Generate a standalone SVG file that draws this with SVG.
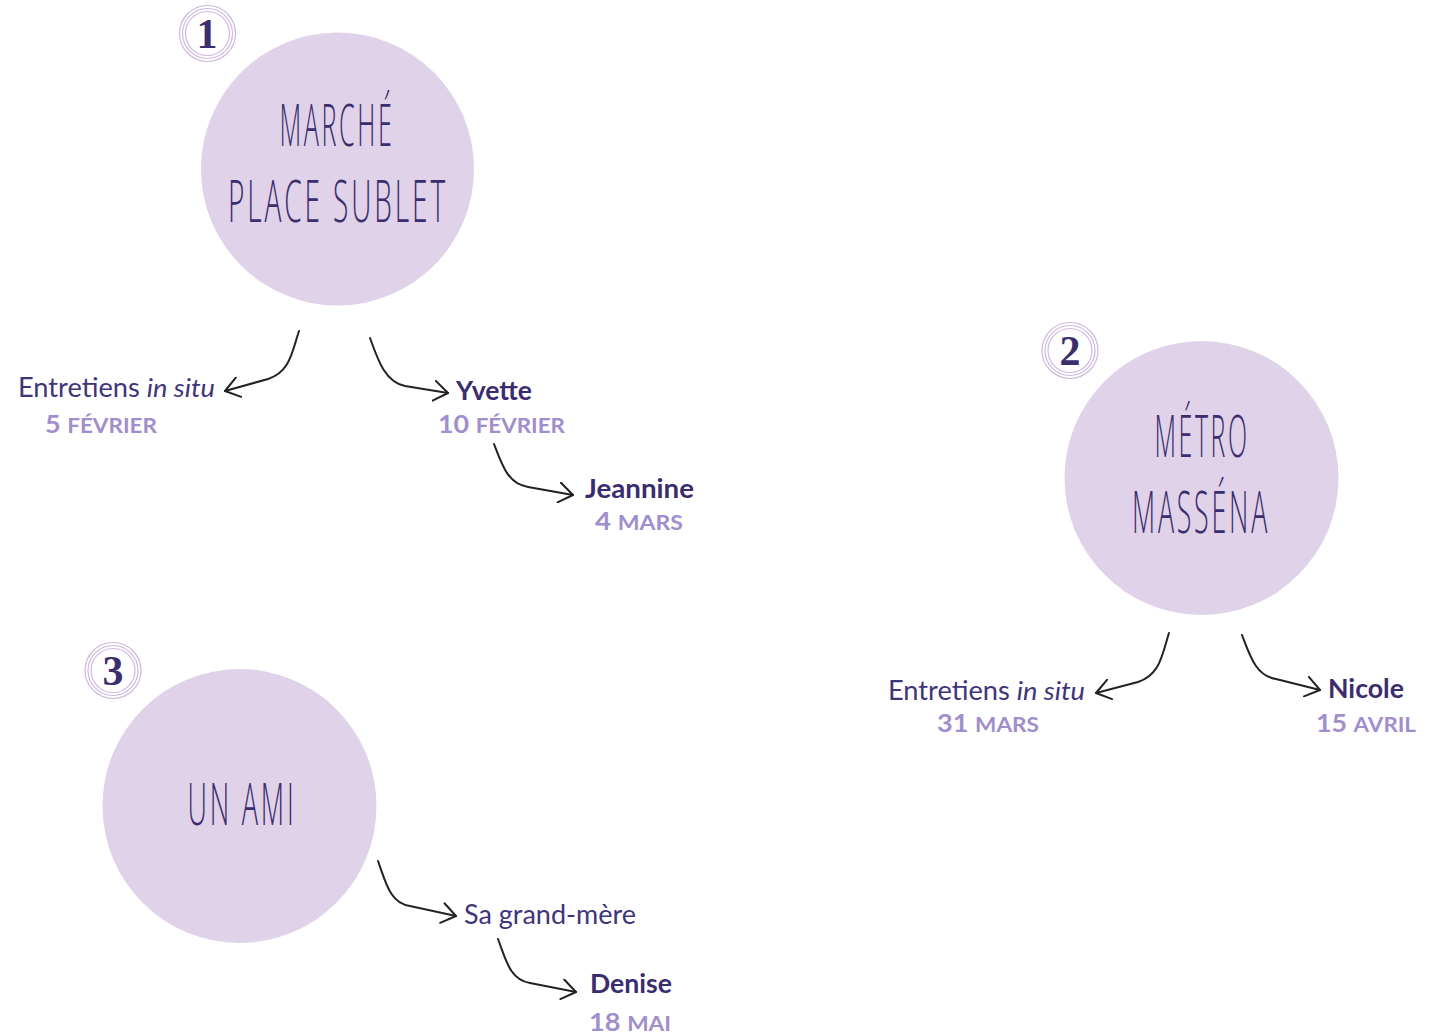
<svg xmlns="http://www.w3.org/2000/svg" width="1436" height="1035" viewBox="0 0 1436 1035">
<defs>
<style>
.bubble{fill:#e0d2e8}
.ring{fill:none;stroke:#cdb8df;stroke-width:1.2}
.num{font-family:"Liberation Serif","DejaVu Serif",serif;font-weight:bold;font-size:42px;fill:#3a2e6e;text-anchor:middle}
.title{font-family:"Open Sans","Liberation Sans",sans-serif;font-weight:300;font-size:58px;fill:#3a2e6e;text-anchor:middle;letter-spacing:6px}
.lbl{font-family:Lato,"Liberation Sans",sans-serif;font-size:26px;fill:#40357a}
.name{font-family:Lato,"Liberation Sans",sans-serif;font-weight:bold;font-size:26px;fill:#3a2d6f}
.date{font-family:Lato,"Liberation Sans",sans-serif;font-weight:bold;font-size:24px;fill:#a18ecd}
.sc{font-size:20px}
.conn{fill:none;stroke:#222;stroke-width:2;stroke-linecap:round}
</style>
<marker id="arr" viewBox="0 0 16 22" refX="15" refY="11" markerWidth="16" markerHeight="22" markerUnits="userSpaceOnUse" orient="auto">
<path d="M1,1 L15,11 L1,21" fill="none" stroke="#222" stroke-width="2" stroke-linecap="round" stroke-linejoin="round"/>
</marker>
</defs>
<rect width="1436" height="1035" fill="#fff"/>

<g id="node-marche">
<circle class="bubble" cx="337.5" cy="169" r="136.5"/>
<text class="title" x="337" y="146" textLength="115" lengthAdjust="spacingAndGlyphs">MARCHÉ</text>
<text class="title" x="338" y="222" textLength="220" lengthAdjust="spacingAndGlyphs">PLACE SUBLET</text>
</g>
<g id="badge-1">
<circle class="ring" cx="207.5" cy="33.5" r="28"/>
<circle class="ring" cx="207.5" cy="33.5" r="25"/>
<circle class="ring" cx="207.5" cy="33.5" r="22"/>
<text class="num" x="207" y="48">1</text>
</g>

<g id="node-metro">
<circle class="bubble" cx="1201.5" cy="478" r="137"/>
<text class="title" x="1202" y="457" textLength="95" lengthAdjust="spacingAndGlyphs">MÉTRO</text>
<text class="title" x="1201" y="533" textLength="138" lengthAdjust="spacingAndGlyphs">MASSÉNA</text>
</g>
<g id="badge-2">
<circle class="ring" cx="1070" cy="350.5" r="28"/>
<circle class="ring" cx="1070" cy="350.5" r="25"/>
<circle class="ring" cx="1070" cy="350.5" r="22"/>
<text class="num" x="1070" y="365">2</text>
</g>

<g id="node-ami">
<circle class="bubble" cx="239.5" cy="806" r="137"/>
<text class="title" x="242" y="825" textLength="109" lengthAdjust="spacingAndGlyphs">UN AMI</text>
</g>
<g id="badge-3">
<circle class="ring" cx="113" cy="670.5" r="28"/>
<circle class="ring" cx="113" cy="670.5" r="25"/>
<circle class="ring" cx="113" cy="670.5" r="22"/>
<text class="num" x="113" y="685">3</text>
</g>

<g id="connectors">
<path class="conn" marker-end="url(#arr)" d="M299,331 C292,352 290,372 268,379 L225,391"/>
<path class="conn" marker-end="url(#arr)" d="M370,338 C378,360 385,382 405,386 L448,393"/>
<path class="conn" marker-end="url(#arr)" d="M494,444 C502,465 508,484 528,487 L573,495"/>
<path class="conn" marker-end="url(#arr)" d="M1169,633 C1162,655 1160,675 1138,682 L1096,693"/>
<path class="conn" marker-end="url(#arr)" d="M1242,635 C1250,656 1256,676 1276,679 L1320,690"/>
<path class="conn" marker-end="url(#arr)" d="M378,861 C386,883 390,903 410,906 L456,916"/>
<path class="conn" marker-end="url(#arr)" d="M498,939 C506,960 510,980 530,983 L576,992"/>
</g>

<g id="label-insitu-1">
<text class="lbl" x="18" y="397" textLength="197" lengthAdjust="spacingAndGlyphs">Entretiens <tspan font-style="italic">in situ</tspan></text>
<text class="date" x="45" y="433" textLength="112" lengthAdjust="spacingAndGlyphs">5 <tspan class="sc">FÉVRIER</tspan></text>
</g>
<g id="label-yvette">
<text class="name" x="456" y="400" textLength="76" lengthAdjust="spacingAndGlyphs">Yvette</text>
<text class="date" x="438" y="433" textLength="127" lengthAdjust="spacingAndGlyphs">10 <tspan class="sc">FÉVRIER</tspan></text>
</g>
<g id="label-jeannine">
<text class="name" x="585" y="498" textLength="109" lengthAdjust="spacingAndGlyphs">Jeannine</text>
<text class="date" x="595" y="530" textLength="88" lengthAdjust="spacingAndGlyphs">4 <tspan class="sc">MARS</tspan></text>
</g>
<g id="label-insitu-2">
<text class="lbl" x="888" y="700" textLength="197" lengthAdjust="spacingAndGlyphs">Entretiens <tspan font-style="italic">in situ</tspan></text>
<text class="date" x="937" y="732" textLength="102" lengthAdjust="spacingAndGlyphs">31 <tspan class="sc">MARS</tspan></text>
</g>
<g id="label-nicole">
<text class="name" x="1328" y="698" textLength="76" lengthAdjust="spacingAndGlyphs">Nicole</text>
<text class="date" x="1316" y="732" textLength="100" lengthAdjust="spacingAndGlyphs">15 <tspan class="sc">AVRIL</tspan></text>
</g>
<g id="label-grandmere">
<text class="lbl" x="464" y="924" textLength="172" lengthAdjust="spacingAndGlyphs">Sa grand-mère</text>
</g>
<g id="label-denise">
<text class="name" x="590" y="993" textLength="82" lengthAdjust="spacingAndGlyphs">Denise</text>
<text class="date" x="589" y="1031" textLength="82" lengthAdjust="spacingAndGlyphs">18 <tspan class="sc">MAI</tspan></text>
</g>
</svg>
